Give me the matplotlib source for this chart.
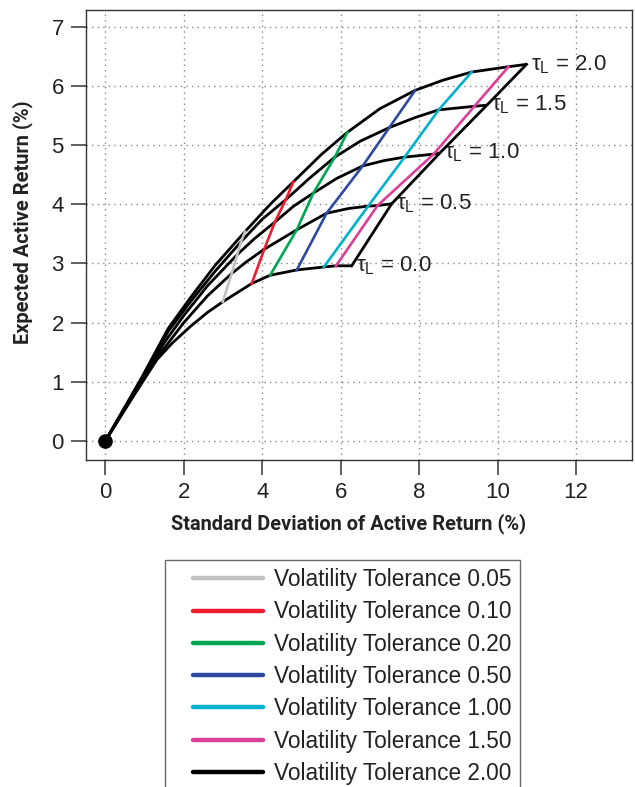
import matplotlib
matplotlib.use("Agg")
import matplotlib.pyplot as plt
from matplotlib.lines import Line2D
from matplotlib.legend_handler import HandlerBase

# ---- data ----
tau_labels = ["0.0", "0.5", "1.0", "1.5", "2.0"]

tau0_x = [0, 0.7, 1.31, 1.7, 2.16, 2.6, 2.99, 3.73, 4.2, 4.88, 5.57, 5.88, 6.28]
tau0_y = [0, 0.74, 1.37, 1.65, 1.93, 2.17, 2.35, 2.66, 2.80, 2.89, 2.94, 2.96, 2.96]

tau05_x = [0, 0.9, 1.4, 2.0, 2.6, 3.22, 3.6, 4.05, 4.88, 5.64, 6.2, 6.7, 6.94, 7.3]
tau05_y = [0, 0.98, 1.48, 2.0, 2.45, 2.83, 3.03, 3.24, 3.57, 3.85, 3.93, 3.97, 3.98, 4.01]

tau10_x = [0, 0.9, 1.5, 2.0, 2.6, 3.36, 3.8, 4.32, 4.8, 5.3, 5.9, 6.56, 7.1, 7.63, 8.37, 8.53]
tau10_y = [0, 1.0, 1.66, 2.12, 2.62, 3.15, 3.42, 3.70, 3.97, 4.19, 4.44, 4.65, 4.74, 4.80, 4.85, 4.87]

tau15_x = [0, 0.9, 1.6, 2.2, 2.8, 3.46, 4.0, 4.6, 5.2, 5.85, 6.5, 7.24, 7.9, 8.5, 9.41, 9.73]
tau15_y = [0, 1.02, 1.85, 2.38, 2.87, 3.37, 3.75, 4.08, 4.44, 4.80, 5.07, 5.30, 5.47, 5.60, 5.66, 5.68]

tau20_x = [0, 0.9, 1.6, 2.2, 2.8, 3.56, 4.2, 4.79, 5.5, 6.17, 7.0, 7.9, 8.6, 9.34, 10.28, 10.74]
tau20_y = [0, 1.04, 1.90, 2.45, 2.97, 3.54, 4.00, 4.38, 4.84, 5.22, 5.62, 5.93, 6.10, 6.24, 6.33, 6.37]

vt_labels = ["0.05", "0.10", "0.20", "0.50", "1.00", "1.50", "2.00"]
vt005_x = [2.99, 3.22, 3.36, 3.46, 3.56]
vt005_y = [2.35, 2.83, 3.15, 3.37, 3.54]
vt010_x = [3.73, 4.05, 4.32, 4.60, 4.79]
vt010_y = [2.66, 3.24, 3.70, 4.08, 4.38]
vt020_x = [4.20, 4.88, 5.30, 5.85, 6.17]
vt020_y = [2.80, 3.57, 4.19, 4.80, 5.22]
vt050_x = [4.88, 5.64, 6.56, 7.24, 7.90]
vt050_y = [2.89, 3.85, 4.65, 5.30, 5.93]
vt100_x = [5.57, 6.70, 7.63, 8.50, 9.34]
vt100_y = [2.94, 3.97, 4.80, 5.60, 6.24]
vt150_x = [5.88, 6.94, 8.37, 9.41, 10.28]
vt150_y = [2.96, 3.98, 4.85, 5.66, 6.33]
vt200_x = [6.28, 7.30, 8.53, 9.73, 10.74]
vt200_y = [2.96, 4.01, 4.87, 5.68, 6.37]

x_ticks = [0, 2, 4, 6, 8, 10, 12]
y_ticks = [0, 1, 2, 3, 4, 5, 6, 7]

# ---- styling ----
W, H = 635, 787
fig = plt.figure(figsize=(W / 100, H / 100), dpi=100)
L, R, T, B = 86, 632, 10, 460
ax = fig.add_axes([L / W, 1 - B / H, (R - L) / W, (B - T) / H])

ax.set_xlim(-0.497, 13.43)
ax.set_ylim(-0.327, 7.29)

ax.set_xticks(x_ticks)
ax.set_yticks(y_ticks)
tickfont = dict(family="Liberation Sans", size=16)
ax.set_xticklabels([str(v) for v in x_ticks], **tickfont, color="#222222")
ax.set_yticklabels([str(v) for v in y_ticks], **tickfont, color="#222222")
ax.tick_params(axis="both", direction="out", length=11, width=1.2, color="#444444")
ax.tick_params(axis="x", pad=5)
ax.tick_params(axis="y", pad=5)
for s in ax.spines.values():
    s.set_color("#333333")
    s.set_linewidth(1.0)

ax.grid(True, linestyle=(0, (1, 3)), color="#888888", linewidth=1.0)
ax.set_axisbelow(True)

black_lw = 2.0
col_lw = 1.9
taus = [(tau0_x, tau0_y), (tau05_x, tau05_y), (tau10_x, tau10_y),
        (tau15_x, tau15_y), (tau20_x, tau20_y)]
for xs, ys in taus:
    ax.plot(xs, ys, color="black", lw=black_lw, solid_capstyle="butt", zorder=3)

colors = ["#c0c0c0", "#ed1c2e", "#00a651", "#2e4aa0", "#00b2cc", "#dc3f98", "#000000"]
vts = [(vt005_x, vt005_y), (vt010_x, vt010_y), (vt020_x, vt020_y), (vt050_x, vt050_y),
       (vt100_x, vt100_y), (vt150_x, vt150_y), (vt200_x, vt200_y)]
for (xs, ys), c in zip(vts, colors):
    ax.plot(xs, ys, color=c, lw=col_lw if c != "#000000" else black_lw, zorder=4)

ax.plot([0], [0], "o", color="black", markersize=9.5, zorder=5)

lab_font = dict(family=["Liberation Sans", "DejaVu Sans"], size=16, color="#222222")
for (xs, ys), t in zip(taus, tau_labels):
    ax.annotate(r"$\mathregular{τ_L}$ = " + t, xy=(xs[-1], ys[-1]), xytext=(3, 0),
                textcoords="offset points", ha="left", va="center", **lab_font)

ax.set_xlabel("Standard Deviation of Active Return (%)", family="Roboto", weight="bold",
              size=14.4, color="#222222")
ax.set_ylabel("Expected Active Return (%)", family="Roboto", weight="bold",
              size=14.4, color="#222222")
ax.xaxis.set_label_coords((349 - L) / (R - L), (B - 513) / (B - T))
ax.yaxis.set_label_coords((33 - L) / (R - L), (B - 222) / (B - T))


class OffsetLineHandler(HandlerBase):
    def __init__(self, blank_frac=0.22, **kw):
        super().__init__(**kw)
        self.blank_frac = blank_frac

    def create_artists(self, legend, orig_handle, xdescent, ydescent, width, height,
                       fontsize, trans):
        x0 = -xdescent + width * self.blank_frac
        x1 = -xdescent + width
        y = height / 2.0 - ydescent
        ln = Line2D([x0, x1], [y, y], color=orig_handle.get_color(),
                    lw=orig_handle.get_linewidth(), solid_capstyle="round", transform=trans)
        return [ln]


handles = [Line2D([], [], color=c, lw=3.2) for c in colors]
labels = ["Volatility Tolerance " + v for v in vt_labels]
leg = fig.legend(handles, labels, loc="upper left", bbox_to_anchor=(165 / W, 1 - 560 / H),
                 borderaxespad=0, frameon=True, fancybox=False, shadow=False,
                 prop=dict(family="Liberation Sans", size=16.3), handlelength=3.95,
                 handletextpad=0.5, labelspacing=0.41, borderpad=0.36,
                 handler_map={Line2D: OffsetLineHandler(0.225)})
leg.get_frame().set_edgecolor("#444444")
leg.get_frame().set_linewidth(1.0)
for t in leg.get_texts():
    t.set_color("#222222")

fig.savefig("out.png", dpi=100)
